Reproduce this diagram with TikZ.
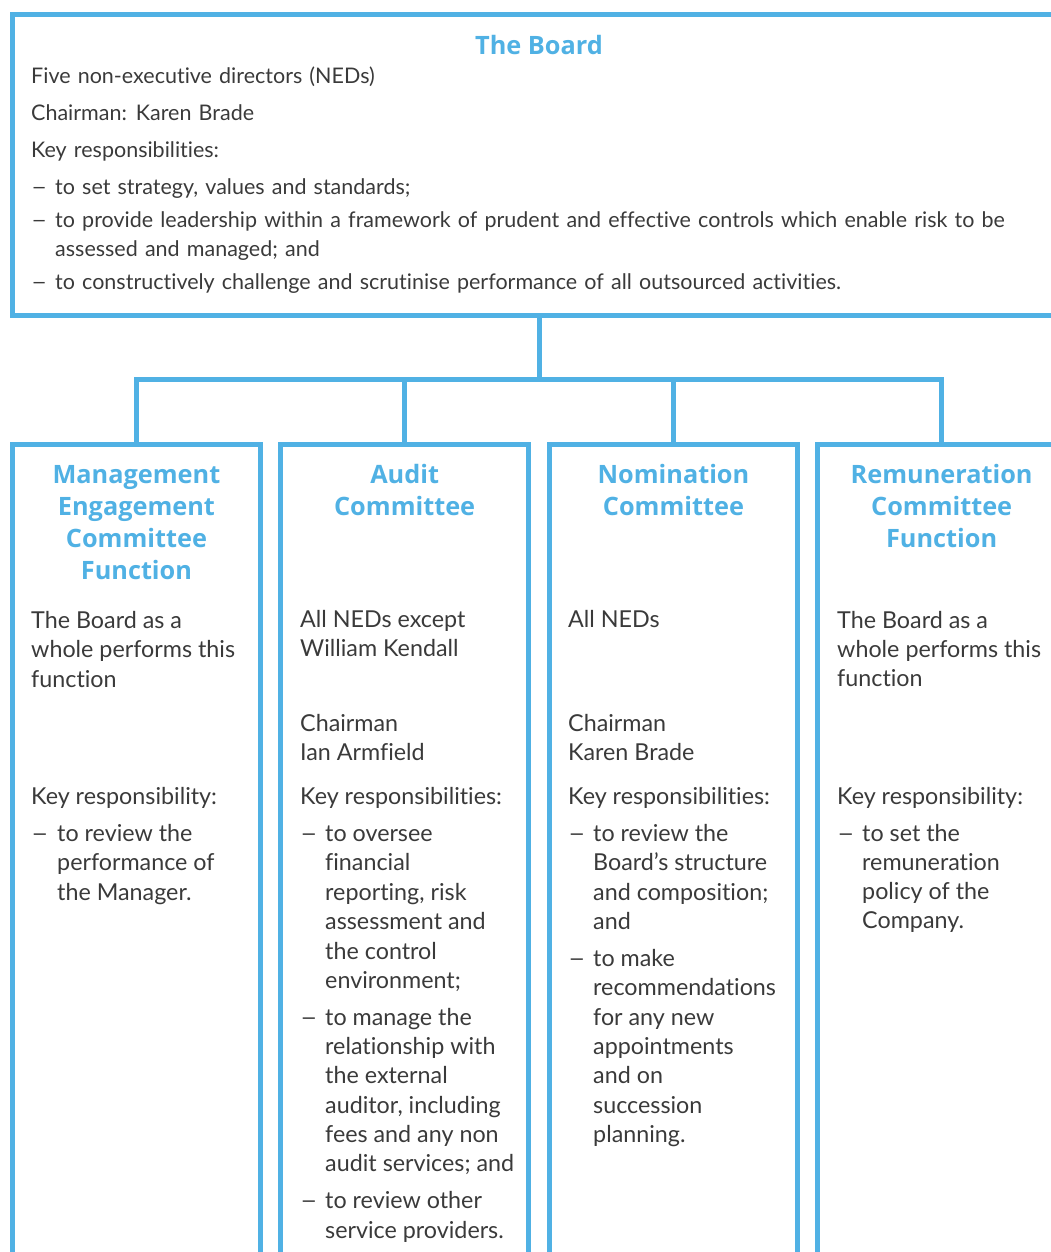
\documentclass[tikz,border=0pt]{standalone}
\usepackage{fontspec}
\setmainfont{Lato}[Ligatures=NoCommon]
\newfontfamily\boardfont{Lato}[Ligatures=NoCommon, WordSpace=1.3]
\newfontfamily\headfont{Open Sans}
\definecolor{brand}{RGB}{80,177,228}
\definecolor{ink}{RGB}{58,58,58}
\newcommand\itemdash{\scalebox{1.3}[1]{–}}
\tikzset{
  frame/.style={draw=brand, line width=5pt, inner sep=0pt, outer sep=0pt, anchor=north west},
  link/.style={draw=brand, line width=5pt},
  head/.style={text=brand, inner sep=0pt, anchor=base, font=\headfont\bfseries\fontsize{25.3}{30}\selectfont},
  btext/.style={text=ink, inner sep=0pt, anchor=base west, font=\boardfont\fontsize{21.5}{29}\selectfont},
  ctext/.style={text=ink, inner sep=0pt, anchor=base west, font=\fontsize{23.3}{29.5}\selectfont},
}
\begin{document}
\begin{tikzpicture}[x=1pt, y=-1pt]
\useasboundingbox (0,0) rectangle (1051,1252);

% boxes
\node[frame, minimum width=1053.5pt, minimum height=300pt] (board) at (12.5,15) {};
\node[frame, minimum width=247.9pt, minimum height=900pt] (mec) at (12.5,444) {};
\node[frame, minimum width=247.9pt, minimum height=900pt] (aud) at (280.7,444) {};
\node[frame, minimum width=247.9pt, minimum height=900pt] (nom) at (549.5,444) {};
\node[frame, minimum width=247.9pt, minimum height=900pt] (rem) at (817.7,444) {};

% connectors
\coordinate (bar) at (539,379);
\draw[link] (board.south) -- (board.south |- bar) -| (mec.north);
\draw[link] (board.south) -- (board.south |- bar) -| (aud.north);
\draw[link] (board.south) -- (board.south |- bar) -| (nom.north);
\draw[link] (board.south) -- (board.south |- bar) -| (rem.north);

% the board
\node[head] (bhead) at (539,55) {The Board};
\foreach \x/\y/\t [count=\i] in {
  31/84/{Five non-executive directors (NEDs)},
  31/121/{Chairman: Karen Brade},
  31/158/{Key responsibilities:},
  31/194/{\itemdash}, 55/194/{to set strategy, values and standards;},
  31/227/{\itemdash}, 55/227/{to provide leadership within a framework of prudent and effective controls which enable risk to be},
  55/256/{assessed and managed; and},
  31/289.5/{\itemdash}, 55/289.5/{to constructively challenge and scrutinise performance of all outsourced activities.}}
  \node[btext] (board-\i) at (\x,\y) {\t};

% committee headings
\foreach \y/\t [count=\i] in {483.5/Management, 515.5/Engagement, 547.5/Committee, 579.5/Function}
  \node[head] (mec-h\i) at (136.45,\y) {\t};
\foreach \y/\t [count=\i] in {483.5/Audit, 515.5/Committee}
  \node[head] (aud-h\i) at (404.65,\y) {\t};
\foreach \y/\t [count=\i] in {483.5/Nomination, 515.5/Committee}
  \node[head] (nom-h\i) at (673.45,\y) {\t};
\foreach \y/\t [count=\i] in {483.5/Remuneration, 515.5/Committee, 547.5/Function}
  \node[head] (rem-h\i) at (941.65,\y) {\t};

% management engagement committee function
\foreach \x/\y/\t [count=\i] in {
  31/628/{The Board as a}, 31/657.5/{whole performs this}, 31/687/{function},
  31/804/{Key responsibility:},
  31/841/{\itemdash}, 57/841/{to review the}, 57/870.5/{performance of}, 57/900/{the Manager.}}
  \node[ctext] (mec-\i) at (\x,\y) {\t};

% audit committee
\foreach \x/\y/\t [count=\i] in {
  300/627/{All NEDs except}, 300/656/{William Kendall},
  300/731/{Chairman}, 300/760/{Ian Armfield},
  300/804/{Key responsibilities:},
  300/841/{\itemdash}, 325/841/{to oversee}, 325/870.5/{financial}, 325/900/{reporting, risk},
  325/929.5/{assessment and}, 325/959/{the control}, 325/988/{environment;},
  300/1025/{\itemdash}, 325/1025/{to manage the}, 325/1054/{relationship with}, 325/1083.5/{the external},
  325/1113/{auditor, including}, 325/1142/{fees and any non}, 325/1171.5/{audit services; and},
  300/1208.5/{\itemdash}, 325/1208.5/{to review other}, 325/1238/{service providers.}}
  \node[ctext] (aud-\i) at (\x,\y) {\t};

% nomination committee
\foreach \x/\y/\t [count=\i] in {
  568/627/{All NEDs},
  568/731/{Chairman}, 568/760/{Karen Brade},
  568/804/{Key responsibilities:},
  568/841/{\itemdash}, 593/841/{to review the}, 593/870.5/{Board’s structure}, 593/900/{and composition;},
  593/929.5/{and},
  568/966.5/{\itemdash}, 593/966.5/{to make}, 593/995.5/{recommendations}, 593/1025/{for any new},
  593/1054.5/{appointments}, 593/1083.5/{and on}, 593/1113/{succession}, 593/1142/{planning.}}
  \node[ctext] (nom-\i) at (\x,\y) {\t};

% remuneration committee function
\foreach \x/\y/\t [count=\i] in {
  837/628/{The Board as a}, 837/657.5/{whole performs this}, 837/686/{function},
  837/804/{Key responsibility:},
  837/841/{\itemdash}, 862/841/{to set the}, 862/870/{remuneration}, 862/899.5/{policy of the},
  862/928.5/{Company.}}
  \node[ctext] (rem-\i) at (\x,\y) {\t};
\end{tikzpicture}
\end{document}
